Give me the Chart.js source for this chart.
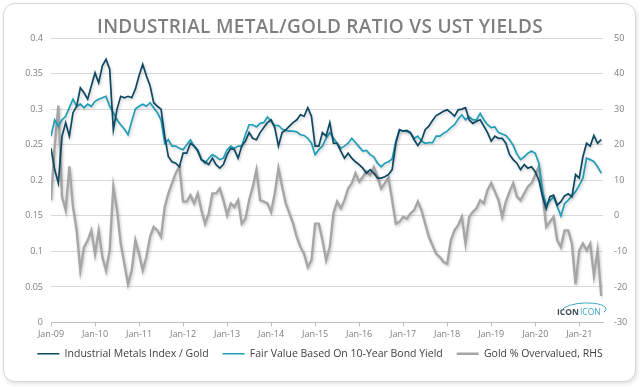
<!DOCTYPE html>
<html>
<head>
<meta charset="utf-8">
<script src="https://cdn.jsdelivr.net/npm/chart.js@4.4.1/dist/chart.umd.min.js"></script>
<style>
  html, body { margin: 0; padding: 0; background: #fff; }
  body { width: 640px; height: 387px; position: relative; overflow: hidden; }
  .tarjeta {
    position: absolute; left: 3px; top: 3px; width: 631px; height: 377px;
    border: 1px solid #d6d6d6; border-radius: 12px;
    box-shadow: 1px 2px 4px rgba(0, 0, 0, 0.12); background: #fff;
  }
  #grafica { position: absolute; left: 0; top: 0; }
</style>
</head>
<body>
<div class="tarjeta"></div>
<canvas id="grafica" width="640" height="387"></canvas>
<script>
// Monthly readings, Jan-09 .. Jul-21
const startYear = 2009;

const metalsGold = [
  0.245, 0.215, 0.196, 0.262, 0.281, 0.262, 0.295, 0.304, 0.330, 0.323, 0.314, 0.333,
  0.351, 0.337, 0.361, 0.370, 0.356, 0.271, 0.300, 0.318, 0.316, 0.318, 0.316, 0.328,
  0.347, 0.363, 0.347, 0.333, 0.309, 0.304, 0.300, 0.262, 0.233, 0.226, 0.224, 0.219,
  0.238, 0.238, 0.252, 0.248, 0.241, 0.229, 0.226, 0.222, 0.231, 0.222, 0.217, 0.222,
  0.236, 0.245, 0.243, 0.231, 0.248, 0.255, 0.267, 0.259, 0.257, 0.267, 0.274, 0.281,
  0.285, 0.274, 0.248, 0.267, 0.271, 0.276, 0.281, 0.285, 0.292, 0.290, 0.302, 0.290,
  0.248, 0.248, 0.267, 0.262, 0.281, 0.252, 0.252, 0.241, 0.231, 0.238, 0.231, 0.226,
  0.222, 0.217, 0.210, 0.215, 0.210, 0.203, 0.203, 0.205, 0.208, 0.215, 0.252, 0.271,
  0.269, 0.270, 0.267, 0.257, 0.249, 0.256, 0.271, 0.276, 0.284, 0.291, 0.294, 0.297,
  0.299, 0.295, 0.290, 0.299, 0.300, 0.302, 0.285, 0.280, 0.283, 0.285, 0.276, 0.267,
  0.255, 0.262, 0.259, 0.259, 0.252, 0.236, 0.229, 0.224, 0.215, 0.222, 0.217, 0.219,
  0.212, 0.200, 0.177, 0.160, 0.177, 0.179, 0.165, 0.170, 0.178, 0.181, 0.177, 0.208,
  0.203, 0.233, 0.252, 0.248, 0.263, 0.252, 0.257
];

const fairValue = [
  0.262, 0.285, 0.276, 0.285, 0.290, 0.302, 0.314, 0.304, 0.307, 0.302, 0.307, 0.304,
  0.311, 0.314, 0.316, 0.318, 0.304, 0.295, 0.285, 0.278, 0.272, 0.264, 0.283, 0.300,
  0.304, 0.307, 0.304, 0.309, 0.302, 0.295, 0.285, 0.252, 0.257, 0.248, 0.248, 0.245,
  0.243, 0.250, 0.257, 0.248, 0.243, 0.229, 0.224, 0.231, 0.236, 0.233, 0.229, 0.231,
  0.243, 0.248, 0.245, 0.248, 0.248, 0.264, 0.278, 0.278, 0.275, 0.280, 0.281, 0.289,
  0.283, 0.277, 0.277, 0.272, 0.270, 0.269, 0.269, 0.268, 0.264, 0.263, 0.259, 0.252,
  0.236, 0.243, 0.248, 0.259, 0.267, 0.259, 0.252, 0.245, 0.248, 0.252, 0.259, 0.253,
  0.247, 0.241, 0.242, 0.236, 0.233, 0.224, 0.219, 0.224, 0.226, 0.230, 0.255, 0.271,
  0.269, 0.269, 0.266, 0.259, 0.262, 0.255, 0.252, 0.253, 0.253, 0.262, 0.262, 0.266,
  0.269, 0.274, 0.278, 0.286, 0.292, 0.285, 0.289, 0.285, 0.285, 0.294, 0.285, 0.278,
  0.274, 0.275, 0.267, 0.265, 0.263, 0.257, 0.249, 0.237, 0.229, 0.233, 0.238, 0.241,
  0.238, 0.224, 0.184, 0.165, 0.171, 0.177, 0.163, 0.150, 0.167, 0.172, 0.178, 0.184,
  0.193, 0.203, 0.231, 0.229, 0.226, 0.219, 0.210
];

// Gold % overvalued (right axis)
const goldOvervalued = [
  4.4, 19.5, 31.0, 5.4, 1.6, 13.9, 2.5, -4.1, -15.4, -8.8, -6.9, -4.1,
  -10.7, -4.1, -11.6, -15.4, -9.7, 8.2, 1.6, -7.8, -13.5, -19.2, -15.4, -6.9,
  -10.7, -15.4, -11.6, -5.9, -3.1, -4.1, -5.9, 2.5, 6.3, 9.2, 12.0, 13.9,
  4.0, 4.0, 5.8, 3.5, 6.3, 1.6, -2.2, 0.7, 6.3, 6.3, 7.7, 4.4,
  0.2, 3.5, 2.5, 4.4, -2.2, -0.8, 4.4, 8.2, 12.9, 4.4, 4.0, 3.5,
  1.1, 6.3, 13.4, 8.2, 3.5, 0.7, -2.2, -5.9, -8.8, -10.7, -14.4, -12.5,
  -2.2, -2.2, -6.9, -12.5, -8.8, 0.7, 4.0, 2.1, 4.4, 7.7, 9.2, 12.0,
  9.6, 11.0, 12.5, 11.5, 13.7, 11.0, 7.7, 9.2, 10.6, 4.4, -2.2, -1.7,
  -0.3, -0.8, 0.7, 1.6, 4.0, 1.6, -2.2, -5.9, -8.3, -10.7, -11.6, -13.0,
  -13.5, -6.9, -4.1, -2.6, -0.3, -7.8, -0.3, 1.1, 2.1, 4.4, 3.5, 7.3,
  9.2, 6.8, 4.4, -0.3, 4.0, 6.8, 9.2, 5.4, 4.4, 6.3, 8.2, 9.2,
  11.5, 13.9, 6.3, -3.1, -1.7, -0.3, -6.9, -8.8, -4.1, -4.1, -7.8, -19.2,
  -9.7, -7.8, -9.7, -7.8, -16.8, -9.7, -22.5
];

const xTickLabels = ['Jan-09', 'Jan-10', 'Jan-11', 'Jan-12', 'Jan-13', 'Jan-14', 'Jan-15',
                     'Jan-16', 'Jan-17', 'Jan-18', 'Jan-19', 'Jan-20', 'Jan-21'];
const leftTickLabels = ['0', '0.05', '0.1', '0.15', '0.2', '0.25', '0.3', '0.35', '0.4'];
const rightTickLabels = ['-30', '-20', '-10', '0', '10', '20', '30', '40', '50'];

const seriesNames = ['Industrial Metals Index / Gold', 'Fair Value Based On 10-Year Bond Yield', 'Gold % Overvalued, RHS'];

// month index -> decimal year for the linear x axis
const toPoints = (arr) => arr.map((v, i) => ({ x: startYear + i / 12, y: v }));

const tickFont = { family: 'Open Sans', size: 9 };

// Title, logo, legend nudge and the soft line shadow
const extras = {
  id: 'extras',
  afterLayout(chart) {
    // pull the legend a bit closer to the axis labels
    chart.legend.top -= 8;
    chart.legend.bottom -= 8;
  },
  beforeDatasetDraw(chart) {
    const ctx = chart.ctx;
    ctx.save();
    ctx.shadowColor = 'rgba(0, 0, 0, 0.22)';
    ctx.shadowBlur = 3;
    ctx.shadowOffsetX = 1;
    ctx.shadowOffsetY = 1.5;
  },
  afterDatasetDraw(chart) {
    chart.ctx.restore();
  },
  afterDraw(chart) {
    const ctx = chart.ctx;
    ctx.save();
    ctx.font = '600 19px "Open Sans"';
    ctx.fillStyle = '#7f7f7f';
    ctx.textAlign = 'center';
    ctx.textBaseline = 'alphabetic';
    ctx.letterSpacing = '0.3px';
    ctx.fillText('INDUSTRIAL METAL/GOLD RATIO VS UST YIELDS', 320, 33);
    ctx.letterSpacing = '0px';

    // small logo, bottom right of the plot
    ctx.textAlign = 'left';
    ctx.font = 'bold 8.5px "Open Sans"';
    ctx.fillStyle = '#3f4d57';
    ctx.fillText('ICON', 557, 315);
    const w = ctx.measureText('ICON').width;
    ctx.font = '8.5px "Open Sans"';
    ctx.fillStyle = '#3aa6c2';
    ctx.fillText('ICON', 557 + w + 1, 315);
    ctx.strokeStyle = '#3aa6c2';
    ctx.lineWidth = 1;
    ctx.beginPath();
    ctx.ellipse(584, 310, 22, 7, -0.05, 0.15 * Math.PI, 1.05 * Math.PI, true);
    ctx.stroke();
    ctx.restore();
  }
};

const canvas = document.getElementById('grafica');

new Chart(canvas, {
  type: 'line',
  data: {
    datasets: [
      {
        label: seriesNames[0],
        data: toPoints(metalsGold),
        borderColor: '#0f4862',
        backgroundColor: '#0f4862',
        borderWidth: 1.7,
        yAxisID: 'y',
        order: 1
      },
      {
        label: seriesNames[1],
        data: toPoints(fairValue),
        borderColor: '#1f9fb8',
        backgroundColor: '#1f9fb8',
        borderWidth: 1.7,
        yAxisID: 'y',
        order: 2
      },
      {
        label: seriesNames[2],
        data: toPoints(goldOvervalued),
        borderColor: '#a6a6a6',
        backgroundColor: '#a6a6a6',
        borderWidth: 2.4,
        yAxisID: 'y2',
        order: 3
      }
    ]
  },
  options: {
    responsive: false,
    animation: false,
    layout: { padding: { top: 38, bottom: 10, left: 0, right: 0 } },
    elements: {
      point: { radius: 0 },
      line: { tension: 0 }
    },
    plugins: {
      title: { display: false },
      tooltip: { enabled: false },
      legend: {
        display: true,
        position: 'bottom',
        labels: {
          usePointStyle: true,
          pointStyle: 'line',
          pointStyleWidth: 22,
          padding: 14,
          color: '#404040',
          font: { family: 'Open Sans', size: 10.5 }
        }
      }
    },
    scales: {
      x: {
        type: 'linear',
        min: startYear,
        max: 2021.54,
        afterFit: (scale) => { scale.height = 20; },
        grid: { drawOnChartArea: false, drawTicks: true, tickLength: 4, color: '#bfbfbf' },
        border: { display: true, color: '#bfbfbf' },
        ticks: {
          stepSize: 1,
          includeBounds: false,
          autoSkip: false,
          maxRotation: 0,
          padding: 3,
          color: '#7f7f7f',
          font: tickFont,
          callback: (v) => xTickLabels[Math.round(v) - startYear]
        }
      },
      y: {
        position: 'left',
        min: 0,
        max: 0.4,
        afterFit: (scale) => { scale.width = 51; },
        grid: { color: '#d9d9d9', drawTicks: false },
        border: { display: false },
        ticks: {
          stepSize: 0.05,
          padding: 8,
          color: '#7f7f7f',
          font: tickFont,
          callback: (v, i) => leftTickLabels[i]
        }
      },
      y2: {
        position: 'right',
        min: -30,
        max: 50,
        afterFit: (scale) => { scale.width = 37; },
        grid: { drawOnChartArea: false, drawTicks: false },
        border: { display: false },
        ticks: {
          stepSize: 10,
          padding: 11,
          color: '#7f7f7f',
          font: tickFont,
          callback: (v, i) => rightTickLabels[i]
        }
      }
    }
  },
  plugins: [extras]
});
</script>
</body>
</html>
